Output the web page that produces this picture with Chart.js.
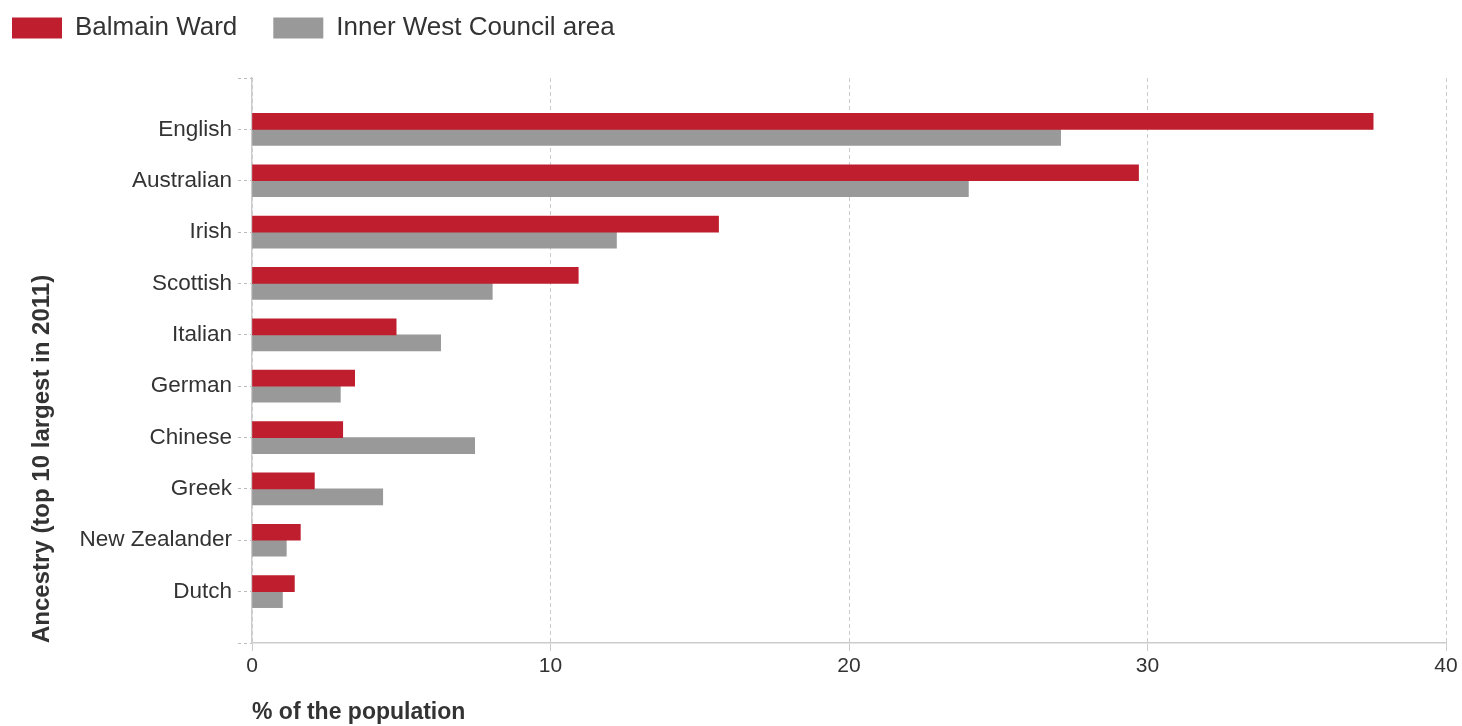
<!DOCTYPE html>
<html>
<head>
<meta charset="utf-8">
<script src="https://cdn.jsdelivr.net/npm/chart.js@4/dist/chart.umd.min.js"></script>
<style>
  html, body { margin: 0; padding: 0; background: #fff; }
  #wrap { width: 1462px; height: 726px; position: relative; }
</style>
</head>
<body>
<div id="wrap"><canvas id="chart"></canvas></div>
<script>
// empty slots at both ends leave a blank band above and below the bars
const categories = ["", "English", "Australian", "Irish", "Scottish", "Italian", "German", "Chinese", "Greek", "New Zealander", "Dutch", ""];
const balmainWard = [null, 37.56, 29.70, 15.63, 10.93, 4.83, 3.44, 3.04, 2.09, 1.62, 1.42, null];
const innerWest = [null, 27.09, 24.0, 12.21, 8.05, 6.32, 2.96, 7.46, 4.38, 1.15, 1.02, null];
const xTicks = [0, 10, 20, 30, 40];

const seriesNames = ["Balmain Ward", "Inner West Council area"];
const RED = "#be1e2d";
const GREY = "#999999";
const TEXT = "#333333";
const FONT = "Arial, 'Liberation Sans', sans-serif";

// extra room between the legend and the plot
const legendGap = {
  id: "legendGap",
  beforeInit(chart) {
    const fit = chart.legend.fit;
    chart.legend.fit = function () {
      fit.call(this);
      this.height += 27;
    };
  },
};

new Chart(document.getElementById("chart"), {
  type: "bar",
  plugins: [legendGap],
  data: {
    labels: categories,
    datasets: [
      {
        label: seriesNames[0],
        data: balmainWard,
        backgroundColor: RED,
        barThickness: 16,
      },
      {
        label: seriesNames[1],
        data: innerWest,
        backgroundColor: GREY,
        barThickness: 16,
      },
    ],
  },
  options: {
    indexAxis: "y",
    responsive: true,
    maintainAspectRatio: false,
    animation: false,
    layout: {
      padding: { left: -24, top: -21, right: 16, bottom: 0 },
    },
    plugins: {
      tooltip: { enabled: false },
      legend: {
        position: "top",
        align: "start",
        labels: {
          boxWidth: 50,
          boxHeight: 21,
          padding: 36,
          color: TEXT,
          font: { family: FONT, size: 26 },
        },
      },
    },
    scales: {
      x: {
        type: "linear",
        min: 0,
        max: 40,
        afterBuildTicks: (scale) => {
          scale.ticks = xTicks.map((value) => ({ value }));
        },
        afterFit: (scale) => {
          scale.height = 83;
        },
        grid: {
          color: "#cccccc",
          tickColor: "#cccccc",
          tickBorderDash: [],
          tickLength: 8,
          lineWidth: 1,
        },
        border: { display: true, color: "#cccccc", width: 1.5, dash: [4, 3] },
        ticks: {
          color: TEXT,
          padding: 3,
          font: { family: FONT, size: 21 },
        },
        title: {
          display: true,
          text: "% of the population",
          align: "start",
          color: TEXT,
          padding: { top: 0, bottom: 0 },
          font: { family: FONT, size: 23, weight: "bold" },
        },
      },
      y: {
        type: "category",
        offset: false,
        afterFit: (scale) => {
          scale.width = 276;
        },
        grid: {
          offset: false,
          drawOnChartArea: false,
          drawTicks: true,
          tickLength: 14,
          tickColor: "#bbbbbb",
          tickBorderDash: [3, 3],
        },
        border: { display: true, color: "#cccccc", width: 1.5 },
        ticks: {
          autoSkip: false,
          color: TEXT,
          padding: 6,
          font: { family: FONT, size: 22.5 },
        },
        title: {
          display: true,
          text: "Ancestry (top 10 largest in 2011)",
          align: "start",
          color: TEXT,
          padding: { top: 52, bottom: 0 },
          font: { family: FONT, size: 24, weight: "bold" },
        },
      },
    },
  },
});
</script>
</body>
</html>
